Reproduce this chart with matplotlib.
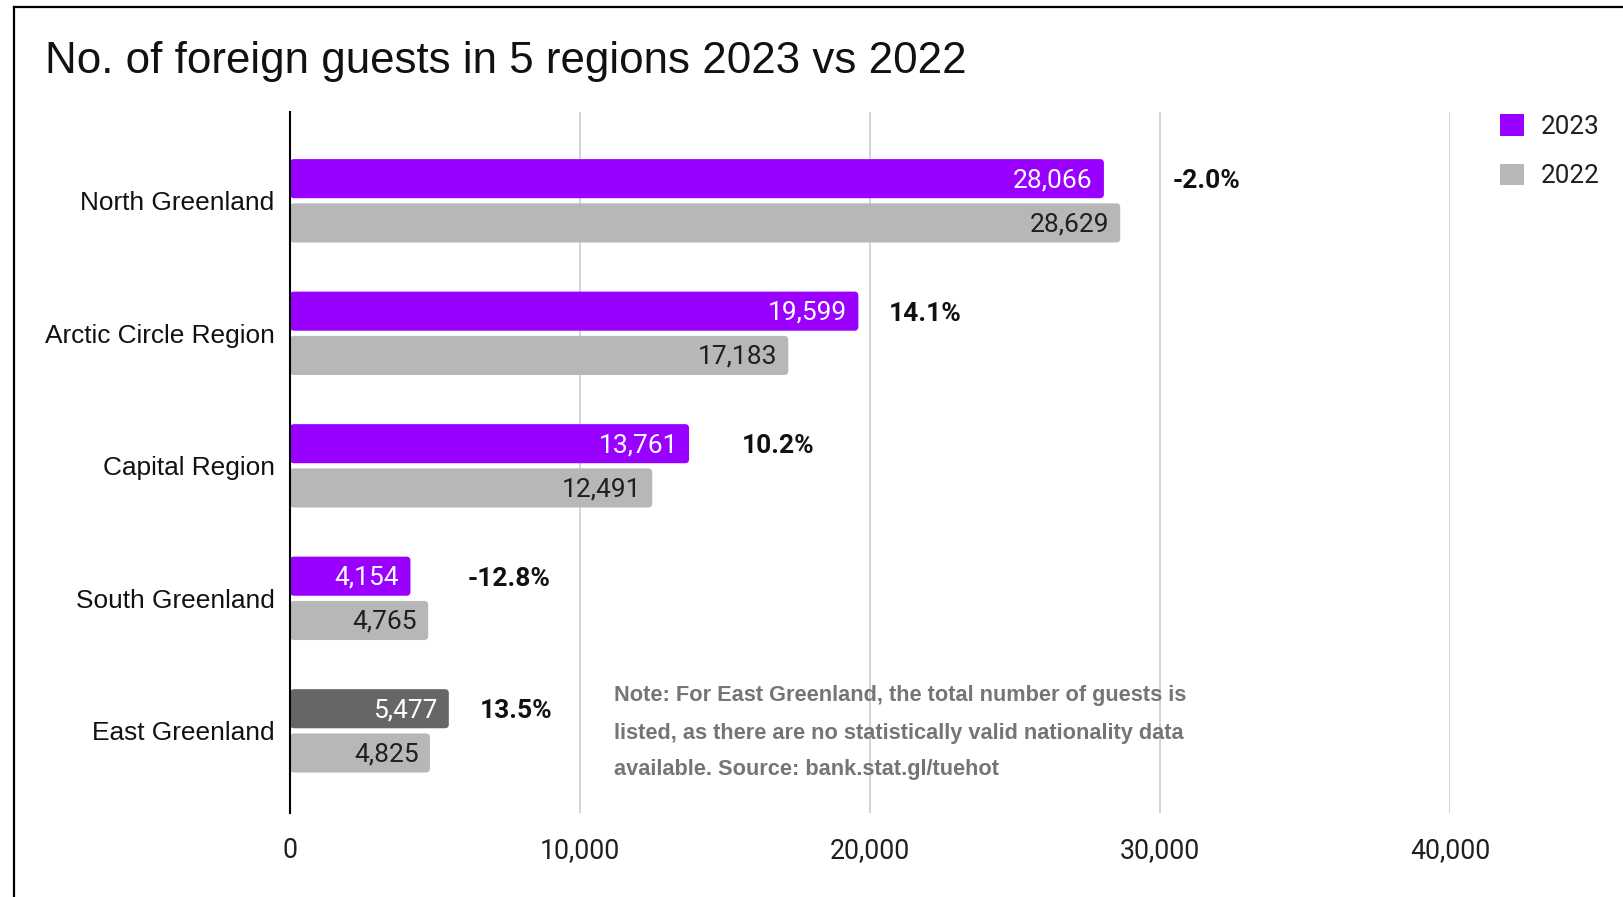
import matplotlib
matplotlib.use("Agg")
import matplotlib.pyplot as plt
from matplotlib.patches import FancyBboxPatch, Patch
from matplotlib.lines import Line2D
from matplotlib.ticker import FuncFormatter

# Foreign guests per region (East Greenland 2023 = total guests)
regions = ["North Greenland", "Arctic Circle Region", "Capital Region",
           "South Greenland", "East Greenland"]
guests_2023 = [28066, 19599, 13761, 4154, 5477]
guests_2022 = [28629, 17183, 12491, 4765, 4825]
x_ticks = [0, 10000, 20000, 30000, 40000]

# gap between the longer bar and the change label
pct_gap = [1820, 1060, 1810, 1370, 1080]

purple = "#9900ff"
grey = "#b7b7b7"
dark_grey = "#666666"
colors_2023 = [purple, purple, purple, purple, dark_grey]

W, H = 1624, 897
fig = plt.figure(figsize=(W / 100, H / 100), dpi=100)
ax = fig.add_axes([290 / W, 1 - 813 / H, (1450 - 290) / W, (813 - 112) / H])

bh = 0.295
off = 0.167
ypos = list(range(len(regions)))

bars23 = ax.barh([y - off for y in ypos], guests_2023, height=bh, color=colors_2023, zorder=3)
bars22 = ax.barh([y + off for y in ypos], guests_2022, height=bh, color=grey, zorder=3)

ax.set_xlim(0, 40000)
ax.set_ylim(4.62, -0.67)

# swap plain rectangles for slightly rounded ones
for bar in list(bars23) + list(bars22):
    x0, y0 = bar.get_x(), bar.get_y()
    w, h = bar.get_width(), bar.get_height()
    rb = FancyBboxPatch((x0, y0), w, h,
                        boxstyle="round,pad=0,rounding_size=140",
                        mutation_aspect=0.03 / 140,
                        facecolor=bar.get_facecolor(), edgecolor="none", zorder=3)
    bar.set_visible(False)
    ax.add_patch(rb)

# values inside the bar ends
for y, v in zip(ypos, guests_2023):
    ax.annotate(f"{v:,}", (v, y - off), xytext=(-8, -1), textcoords="offset points",
                ha="right", va="center", color="white", fontsize=19,
                family="Roboto", zorder=4)
for y, v in zip(ypos, guests_2022):
    ax.annotate(f"{v:,}", (v, y + off), xytext=(-8, -1), textcoords="offset points",
                ha="right", va="center", color="#1f1f1f", fontsize=19,
                family="Roboto", zorder=4)

# change 2022 -> 2023
for y, a, b, g in zip(ypos, guests_2023, guests_2022, pct_gap):
    pct = (a - b) / b * 100
    ax.annotate(f"{pct:.1f}%", (max(a, b) + g, y - off), xytext=(0, -2),
                textcoords="offset points", ha="left", va="center",
                fontsize=19, fontweight="bold", family="Roboto", color="#111111")

ax.set_yticks(ypos)
ax.set_yticklabels(regions, family="Liberation Sans", fontsize=18.9, color="#111111")
ax.set_xticks(x_ticks)
ax.xaxis.set_major_formatter(FuncFormatter(lambda v, p: f"{int(v):,}"))
for lbl in ax.get_xticklabels():
    lbl.set_family("Roboto")
    lbl.set_fontsize(19.2)
    lbl.set_color("#1f1f1f")
ax.tick_params(axis="both", length=0)
ax.tick_params(axis="x", pad=17)
ax.tick_params(axis="y", pad=11)

ax.grid(axis="x", color="#cccccc", linewidth=1.2, zorder=0)
for s in ["top", "right", "bottom"]:
    ax.spines[s].set_visible(False)
ax.spines["left"].set_color("black")
ax.spines["left"].set_linewidth(1.5)
ax.spines["left"].set_zorder(5)

fig.text(45 / W, 1 - 61 / H, "No. of foreign guests in 5 regions 2023 vs 2022",
         family="Liberation Sans", fontsize=31.6, color="#111111", va="center", ha="left")

handles = [Patch(facecolor=purple, edgecolor="none", label="2023"),
           Patch(facecolor=grey, edgecolor="none", label="2022")]
leg = fig.legend(handles=handles, loc="upper left", bbox_to_anchor=(1500 / W, 1 - 114 / H),
                 frameon=False, borderpad=0, borderaxespad=0,
                 handlelength=0.92, handleheight=0.92, handletextpad=0.65,
                 labelspacing=0.95, prop={"family": "Roboto", "size": 18.7})
for t in leg.get_texts():
    t.set_color("#1f1f1f")

fig.text(614 / W, 1 - 733 / H,
         "Note: For East Greenland, the total number of guests is\n"
         "listed, as there are no statistically valid nationality data\n"
         "available. Source: bank.stat.gl/tuehot",
         family="Liberation Sans", fontweight="bold", fontsize=15.7, color="#757575",
         ha="left", va="center", linespacing=2.0)

# frame around the chart (cut at right and bottom)
fig.add_artist(Line2D([14 / W, 14 / W], [0, 1 - 7 / H], color="black", lw=1.6,
                      transform=fig.transFigure))
fig.add_artist(Line2D([14 / W, 1], [1 - 7 / H, 1 - 7 / H], color="black", lw=1.6,
                      transform=fig.transFigure))

fig.savefig("out.png", dpi=100)
